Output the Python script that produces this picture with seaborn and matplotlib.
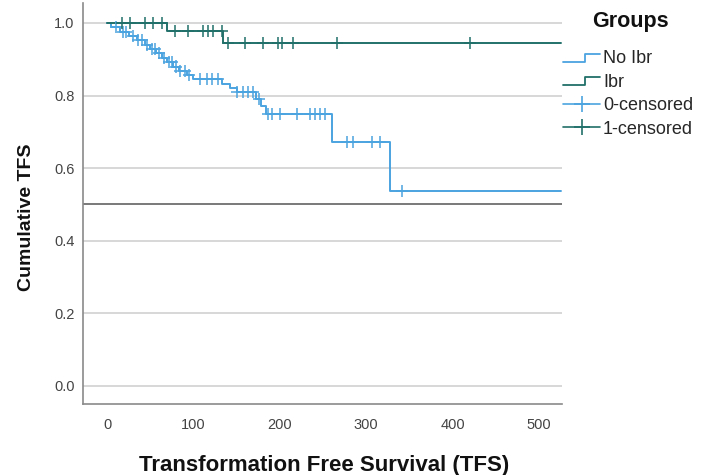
import numpy as np
import pandas as pd
import matplotlib
matplotlib.use("Agg")
import matplotlib.pyplot as plt
from matplotlib.lines import Line2D
from matplotlib.legend_handler import HandlerBase
import seaborn as sns

# Kaplan-Meier step points (time, cumulative TFS)
noibr_t = [0, 5, 15, 25, 35, 44, 50, 57, 64, 70, 76, 83, 92, 100, 133, 142, 150,
           173, 178, 184, 260, 328, 525]
noibr_s = [1.0, 0.988, 0.976, 0.964, 0.952, 0.940, 0.928, 0.916, 0.904, 0.892,
           0.880, 0.868, 0.856, 0.845, 0.833, 0.821, 0.809, 0.790, 0.770, 0.748,
           0.673, 0.538, 0.538]
ibr_t = [0, 70, 134, 525]
ibr_s = [1.0, 0.978, 0.946, 0.946]

# censored observations (times)
noibr_cens = [10, 18, 22, 30, 36, 40, 46, 52, 55, 60, 66, 72, 75, 80, 85, 90, 95,
              108, 116, 121, 128, 150, 157, 163, 169, 176, 186, 191, 200, 220,
              235, 241, 247, 252, 278, 285, 307, 316, 341]
ibr_cens = [17, 27, 44, 53, 64, 79, 94, 111, 117, 123, 133, 140, 160, 181, 198,
            203, 215, 266, 420]

groups = ["No Ibr", "Ibr"]
colors = {"No Ibr": "#4ba3df", "Ibr": "#21706a"}


def step_value(t, times, surv):
    idx = np.searchsorted(times, t, side="right") - 1
    return np.array(surv)[idx]


curves = pd.concat([
    pd.DataFrame({"time": noibr_t, "surv": noibr_s, "group": "No Ibr"}),
    pd.DataFrame({"time": ibr_t, "surv": ibr_s, "group": "Ibr"}),
])
cens = pd.concat([
    pd.DataFrame({"time": noibr_cens, "surv": step_value(noibr_cens, noibr_t, noibr_s), "group": "No Ibr"}),
    pd.DataFrame({"time": ibr_cens, "surv": step_value(ibr_cens, ibr_t, ibr_s), "group": "Ibr"}),
])

sns.set_style("white")
plt.rcParams["font.family"] = ["Liberation Sans", "DejaVu Sans"]

W, H = 701, 475
fig = plt.figure(figsize=(W / 100, H / 100), dpi=100)
ax = fig.add_axes([83 / W, 1 - 404 / H, (562 - 83) / W, (404 - 3) / H])

for y in [0.0, 0.2, 0.4, 0.6, 0.8, 1.0]:
    ax.axhline(y, color="#d4d4d4", lw=1.3, zorder=0)
ax.axhline(0.5, color="#6e6e6e", lw=1.3, zorder=1)

sns.lineplot(data=curves, x="time", y="surv", hue="group", palette=colors,
             estimator=None, sort=False, drawstyle="steps-post", lw=1.4,
             legend=False, ax=ax, zorder=3)
sns.scatterplot(data=cens, x="time", y="surv", hue="group", palette=colors,
                marker="+", s=75, linewidth=1.1, legend=False, ax=ax, zorder=4)

ax.set_xlim(-27.8, 526.6)
ax.set_ylim(-0.05, 1.055)
ax.set_xticks([0, 100, 200, 300, 400, 500])
ax.set_yticks([0.0, 0.2, 0.4, 0.6, 0.8, 1.0])
ax.set_yticklabels(["0.0", "0.2", "0.4", "0.6", "0.8", "1.0"])
ax.tick_params(length=0, labelsize=10.5, labelcolor="#444444", pad=6)
ax.tick_params(axis="x", pad=10)
for side in ["top", "right"]:
    ax.spines[side].set_visible(False)
for side in ["left", "bottom"]:
    ax.spines[side].set_color("#8a8a8a")
    ax.spines[side].set_linewidth(1.2)
ax.set_xlabel("")
ax.set_ylabel("")

fig.text(324 / W, 1 - 465 / H, "Transformation Free Survival (TFS)", fontsize=16,
         fontweight="bold", ha="center", va="center", color="#111111")
fig.text(27 / W, 1 - 217 / H, "Cumulative TFS", fontsize=14, fontweight="bold",
         rotation=90, ha="center", va="center", color="#111111")
fig.text(630 / W, 1 - 22 / H, "Groups", fontsize=15.5, fontweight="bold",
         ha="center", va="center", color="#111111")


class HandlerStep(HandlerBase):
    def create_artists(self, legend, orig_handle, xdescent, ydescent, width, height, fontsize, trans):
        xs = [-xdescent, -xdescent + 0.6 * width, -xdescent + 0.6 * width, -xdescent + width]
        ys = [-ydescent + 0.1 * height, -ydescent + 0.1 * height,
              -ydescent + 0.75 * height, -ydescent + 0.75 * height]
        ln = Line2D(xs, ys, color=orig_handle.get_color(), lw=1.3, transform=trans)
        return [ln]


h_no = Line2D([], [], color=colors["No Ibr"])
h_ib = Line2D([], [], color=colors["Ibr"])
h_c0 = Line2D([], [], color=colors["No Ibr"], lw=1.2, marker="+", markersize=12, markeredgewidth=1.2)
h_c1 = Line2D([], [], color=colors["Ibr"], lw=1.2, marker="+", markersize=12, markeredgewidth=1.2)
leg = fig.legend([h_no, h_ib, h_c0, h_c1], ["No Ibr", "Ibr", "0-censored", "1-censored"],
                 handler_map={h_no: HandlerStep(), h_ib: HandlerStep()},
                 loc="upper left", bbox_to_anchor=(556 / W, 1 - 43 / H),
                 frameon=False, fontsize=13, handlelength=2.05,
                 handletextpad=0.15, labelspacing=0.36, borderaxespad=0)

fig.savefig("out.png", dpi=100)
